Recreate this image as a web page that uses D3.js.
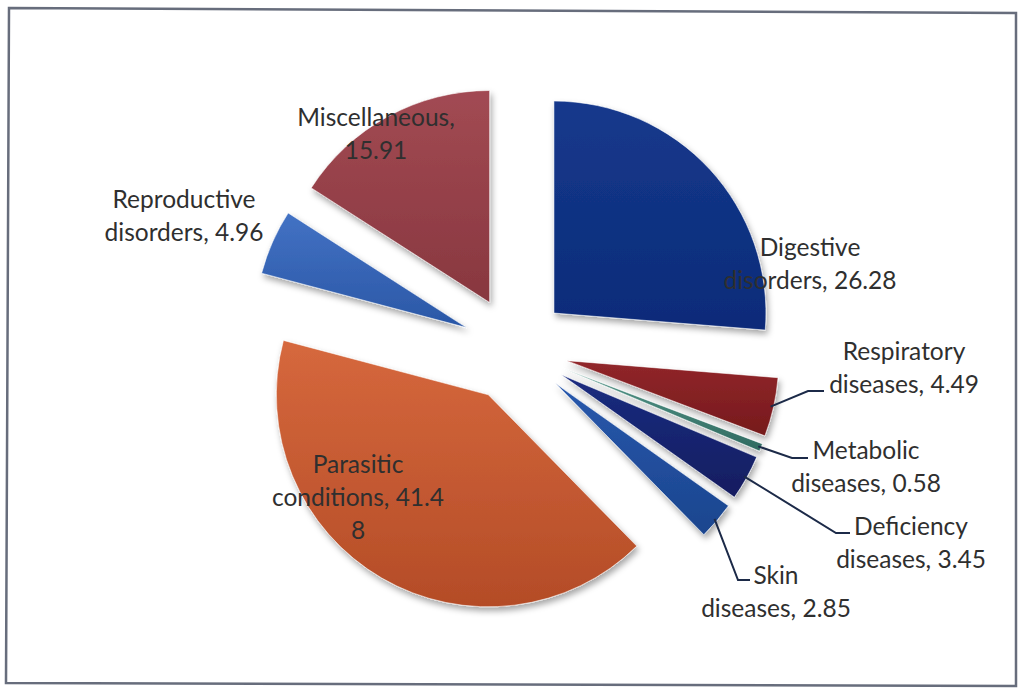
<!DOCTYPE html>
<html>
<head>
<meta charset="utf-8">
<script src="https://cdn.jsdelivr.net/npm/d3@7"></script>
<style>
  html, body { margin: 0; padding: 0; background: #ffffff; }
  svg { display: block; }
  .lbl { font-family: Lato, "Open Sans", sans-serif; font-size: 24.5px; fill: #2f2f2f; }
</style>
</head>
<body>
<svg id="chart" width="1018" height="690"></svg>
<script>
// Disease categories and their share (%) of recorded cases
const categories = [
  "Digestive disorders", "Respiratory diseases", "Metabolic diseases",
  "Deficiency diseases", "Skin diseases", "Parasitic conditions",
  "Reproductive disorders", "Miscellaneous"
];
const values = [26.28, 4.49, 0.58, 3.45, 2.85, 41.48, 4.96, 15.91];

// Label text, wrapped as the data labels are wrapped
const labelLines = [
  ["Digestive", "disorders, 26.28"],
  ["Respiratory", "diseases, 4.49"],
  ["Metabolic", "diseases, 0.58"],
  ["Deficiency", "diseases, 3.45"],
  ["Skin", "diseases, 2.85"],
  ["Parasitic", "conditions, 41.4", "8"],
  ["Reproductive", "disorders, 4.96"],
  ["Miscellaneous,", "15.91"]
];

// Slice fills: [light, dark] for a top-to-bottom shading
const sliceColors = [
  ["#15398c", "#0c2b79"],
  ["#91262a", "#761a1c"],
  ["#55978a", "#2f6a60"],
  ["#1b2c80", "#121d60"],
  ["#2958ac", "#1a458e"],
  ["#d6683d", "#b44c27"],
  ["#4372c4", "#2a57a6"],
  ["#a24a53", "#88373f"]
];

// Layout of the labels: centre x, first baseline y, and leader elbow (if any)
const labelLayout = [
  { x: 810, y: 256, elbow: null },
  { x: 904, y: 360, elbow: [[808, 391], [824, 391]] },
  { x: 866, y: 459, elbow: [[792, 458], [808, 458]] },
  { x: 911, y: 535, elbow: [[836, 533], [850, 533]] },
  { x: 776, y: 584, elbow: [[738, 580], [750, 580]] },
  { x: 358, y: 473, elbow: null },
  { x: 184, y: 208, elbow: null },
  { x: 376, y: 126, elbow: null }
];

const svg = d3.select("#chart");
const cx = 515, cy = 349, radius = 212, explode = 53;

// Frame around the chart area
svg.append("path")
  .attr("d", "M9,8 L1016,13 L1016,686 L6,683 Z")
  .attr("fill", "none")
  .attr("stroke", "#676d7c")
  .attr("stroke-width", 2.5);

const defs = svg.append("defs");
const shadow = defs.append("filter").attr("id", "shadow")
  .attr("x", "-20%").attr("y", "-20%").attr("width", "140%").attr("height", "140%");
shadow.append("feDropShadow")
  .attr("dx", 2).attr("dy", 4).attr("stdDeviation", 3)
  .attr("flood-color", "#000").attr("flood-opacity", 0.35);

sliceColors.forEach((c, i) => {
  const g = defs.append("linearGradient").attr("id", "grad" + i)
    .attr("x1", 0).attr("y1", 0).attr("x2", 0).attr("y2", 1);
  g.append("stop").attr("offset", "0%").attr("stop-color", c[0]);
  g.append("stop").attr("offset", "100%").attr("stop-color", c[1]);
});

const pie = d3.pie().sort(null).value(d => d).startAngle(0).endAngle(2 * Math.PI);
const arcs = pie(values);
const arc = d3.arc().innerRadius(0).outerRadius(radius);

const dir = a => [Math.sin(a), -Math.cos(a)];

const root = svg.append("g").attr("transform", `translate(${cx},${cy})`);

const slices = root.selectAll("g.slice").data(arcs).enter().append("g")
  .attr("class", "slice")
  .attr("transform", d => {
    const [ux, uy] = dir((d.startAngle + d.endAngle) / 2);
    return `translate(${ux * explode},${uy * explode})`;
  });

slices.append("path")
  .attr("d", arc)
  .attr("fill", (d, i) => `url(#grad${i})`)
  .attr("stroke", "rgba(255,255,255,0.55)")
  .attr("stroke-width", 1)
  .attr("filter", "url(#shadow)");

// Leader lines from the outer edge of the small slices to their labels
arcs.forEach((d, i) => {
  const lay = labelLayout[i];
  if (!lay.elbow) return;
  const mid = (d.startAngle + d.endAngle) / 2;
  const [ux, uy] = dir(mid);
  const sx = cx + ux * (explode + radius - 3);
  const sy = cy + uy * (explode + radius - 3);
  const pts = [[sx, sy]].concat(lay.elbow);
  svg.append("path")
    .attr("d", d3.line()(pts))
    .attr("fill", "none")
    .attr("stroke", "#1c2a48")
    .attr("stroke-width", 2);
});

// Data labels
labelLines.forEach((lines, i) => {
  const lay = labelLayout[i];
  const t = svg.append("text").attr("class", "lbl").attr("text-anchor", "middle");
  lines.forEach((line, j) => {
    t.append("tspan").attr("x", lay.x).attr("y", lay.y + j * 33).text(line);
  });
});
</script>
</body>
</html>
